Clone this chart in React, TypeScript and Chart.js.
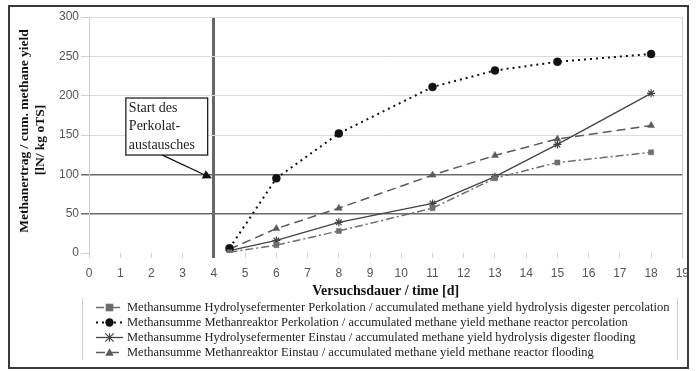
import React, { useEffect, useRef } from 'react';
import { Chart, registerables } from 'chart.js';
Chart.register(...registerables);

const days = [4.5, 6, 8, 11, 13, 15, 18];
const hydroPerkolation = [1, 10, 28, 57, 95, 115, 128];
const methanPerkolation = [6, 95, 152, 211, 232, 243, 253];
const hydroEinstau = [3, 16, 39, 63, 97, 138, 203];
const methanEinstau = [5, 31, 57, 99, 124, 145, 162];

const legendLabels = [
  'Methansumme Hydrolysefermenter Perkolation / accumulated methane yield hydrolysis digester percolation',
  'Methansumme Methanreaktor Perkolation / accumulated methane yield methane reactor percolation',
  'Methansumme Hydrolysefermenter Einstau / accumulated methane yield hydrolysis digester flooding',
  'Methansumme Methanreaktor Einstau / accumulated methane yield methane reactor flooding',
];
const xTitle = 'Versuchsdauer / time [d]';
const yTitle = ['Methanertrag / cum. methane yield', '[lN/ kg oTS]'];
const noteLines = ['Start des', 'Perkolat-', 'austausches'];
const noteDay = 4;
const noteValue = 95;

const SERIF = '"Liberation Serif", "Times New Roman", serif';
const SANS = '"Liberation Sans", Arial, sans-serif';

const styles = [
  { color: '#6e6e6e', dash: [8, 3, 2, 3], marker: 'rect', width: 1.5 },
  { color: '#111111', dash: [2, 4], marker: 'circle', width: 2 },
  { color: '#444444', dash: [], marker: 'star', width: 1.3 },
  { color: '#5a5a5a', dash: [9, 5], marker: 'triangle', width: 1.5 },
];

function drawMarker(ctx: CanvasRenderingContext2D, kind: string, x: number, y: number, r: number, color: string) {
  ctx.save();
  ctx.fillStyle = color;
  ctx.strokeStyle = color;
  ctx.setLineDash([]);
  ctx.beginPath();
  if (kind === 'rect') {
    ctx.fillRect(x - r, y - r, 2 * r, 2 * r);
  } else if (kind === 'circle') {
    ctx.arc(x, y, r, 0, Math.PI * 2);
    ctx.fill();
  } else if (kind === 'triangle') {
    ctx.moveTo(x, y - r);
    ctx.lineTo(x + r, y + r * 0.8);
    ctx.lineTo(x - r, y + r * 0.8);
    ctx.closePath();
    ctx.fill();
  } else {
    ctx.lineWidth = 1.2;
    ctx.moveTo(x - r, y - r); ctx.lineTo(x + r, y + r);
    ctx.moveTo(x - r, y + r); ctx.lineTo(x + r, y - r);
    ctx.moveTo(x, y - r); ctx.lineTo(x, y + r);
    ctx.stroke();
  }
  ctx.restore();
}

export default function App() {
  const ref = useRef<HTMLCanvasElement>(null);
  useEffect(() => {
    const canvas = ref.current!;
    const series = [hydroPerkolation, methanPerkolation, hydroEinstau, methanEinstau];
    const datasets = series.map((arr, i) => ({
      label: legendLabels[i],
      data: days.map((d, j) => ({ x: d, y: arr[j] })),
      borderColor: styles[i].color,
      backgroundColor: styles[i].color,
      borderDash: styles[i].dash,
      borderWidth: styles[i].width,
      pointStyle: styles[i].marker as any,
      pointRadius: styles[i].marker === 'rect' ? 3.6 : 4,
      pointBorderWidth: styles[i].marker === 'star' ? 1.2 : 0.5,
      pointBackgroundColor: styles[i].color,
      pointBorderColor: styles[i].color,
      tension: 0,
      fill: false,
    }));

    const overlay = {
      id: 'overlay',
      beforeDraw(chart: any) {
        const c = chart.ctx;
        c.save();
        c.fillStyle = '#ffffff';
        c.fillRect(0, 0, chart.width, chart.height);
        c.restore();
      },
      afterDraw(chart: any) {
        const c: CanvasRenderingContext2D = chart.ctx;
        const xs = chart.scales.x;
        const ys = chart.scales.y;
        const area = chart.chartArea;
        c.save();

        // annotation box and arrow
        const bx1 = xs.getPixelForValue(1.18);
        const bx2 = xs.getPixelForValue(3.8);
        const by1 = ys.getPixelForValue(197);
        const by2 = ys.getPixelForValue(124.5);
        c.fillStyle = '#ffffff';
        c.fillRect(bx1, by1, bx2 - bx1, by2 - by1);
        c.strokeStyle = '#222';
        c.lineWidth = 1.3;
        c.setLineDash([]);
        c.strokeRect(bx1, by1, bx2 - bx1, by2 - by1);
        c.fillStyle = '#222';
        c.font = `14px ${SERIF}`;
        c.textAlign = 'left';
        c.textBaseline = 'middle';
        noteLines.forEach((t, i) => c.fillText(t, bx1 + 3, by1 + 10 + i * 18.5));

        const ax1 = xs.getPixelForValue(2.35);
        const ay1 = by2;
        const ax2 = xs.getPixelForValue(noteDay) - 2;
        const ay2 = ys.getPixelForValue(noteValue);
        const ang = Math.atan2(ay2 - ay1, ax2 - ax1);
        c.strokeStyle = '#111';
        c.lineWidth = 1.3;
        c.beginPath();
        c.moveTo(ax1, ay1);
        c.lineTo(ax2 - 6 * Math.cos(ang), ay2 - 6 * Math.sin(ang));
        c.stroke();
        c.fillStyle = '#111';
        c.beginPath();
        c.moveTo(ax2, ay2);
        c.lineTo(ax2 - 9 * Math.cos(ang) + 4.5 * Math.sin(ang), ay2 - 9 * Math.sin(ang) - 4.5 * Math.cos(ang));
        c.lineTo(ax2 - 9 * Math.cos(ang) - 4.5 * Math.sin(ang), ay2 - 9 * Math.sin(ang) + 4.5 * Math.cos(ang));
        c.closePath();
        c.fill();

        // x title
        c.fillStyle = '#111';
        c.font = `bold 14px ${SERIF}`;
        c.textAlign = 'center';
        c.textBaseline = 'middle';
        c.fillText(xTitle, (area.left + area.right) / 2, 291);

        // y title
        c.font = `bold 13.5px ${SERIF}`;
        c.save();
        c.translate(25, 131);
        c.rotate(-Math.PI / 2);
        c.fillText(yTitle[0], 0, 0);
        c.restore();
        c.save();
        c.translate(41, 140);
        c.rotate(-Math.PI / 2);
        c.fillText(yTitle[1], 0, 0);
        c.restore();

        // legend
        c.strokeStyle = '#cfcfcf';
        c.lineWidth = 1;
        c.beginPath();
        c.moveTo(82.5, 298); c.lineTo(82.5, 360);
        c.moveTo(677.5, 298); c.lineTo(677.5, 360);
        c.stroke();
        c.font = `12.5px ${SERIF}`;
        c.textAlign = 'left';
        c.textBaseline = 'middle';
        legendLabels.forEach((t, i) => {
          const y = 307.5 + i * 15;
          const st = styles[i];
          c.strokeStyle = st.color;
          c.lineWidth = st.width;
          c.setLineDash(st.dash);
          c.beginPath();
          c.moveTo(96, y); c.lineTo(123, y);
          c.stroke();
          c.setLineDash([]);
          drawMarker(c, st.marker, 109.5, y, st.marker === 'rect' ? 3.8 : 4.2, st.color);
          c.fillStyle = '#222';
          c.fillText(t, 127, y + 0.5);
        });

        // outer border
        c.strokeStyle = '#3a3a3a';
        c.lineWidth = 2;
        c.strokeRect(9, 6, 679, 362);
        c.restore();
      },
    };

    const chart = new Chart(canvas, {
      type: 'line',
      data: { datasets: datasets as any },
      options: {
        responsive: false,
        animation: false,
        devicePixelRatio: 1,
        layout: { padding: { left: 0, top: 17, right: 14, bottom: 88 } },
        plugins: { legend: { display: false }, tooltip: { enabled: false } },
        scales: {
          x: {
            type: 'linear',
            min: 0,
            max: 19,
            ticks: { stepSize: 1, color: '#555', font: { family: SANS, size: 12 }, padding: 8 },
            grid: {
              color: (ctx: any) => (ctx.tick && ctx.tick.value === 4 ? '#666' : ctx.tick && ctx.tick.value === 19 ? '#cfcfcf' : 'rgba(0,0,0,0)'),
              tickColor: (ctx: any) => (ctx.tick && ctx.tick.value === 4 ? '#666' : '#d0d0d0'),
              lineWidth: (ctx: any) => (ctx.tick && ctx.tick.value === 4 ? 3 : 1),
              tickLength: 5,
            },
            border: { display: false },
            afterFit: (s: any) => { s.height = 30; },
          },
          y: {
            min: 0,
            max: 300,
            ticks: { stepSize: 50, color: '#555', font: { family: SANS, size: 12 }, padding: 2 },
            grid: {
              color: (ctx: any) => {
                const v = ctx.tick ? ctx.tick.value : -1;
                if (v === 50 || v === 100) return '#6a6a6a';
                if (v === 0) return 'rgba(0,0,0,0)';
                return '#dcdcdc';
              },
              tickColor: (ctx: any) => {
                const v = ctx.tick ? ctx.tick.value : -1;
                return v === 50 || v === 100 ? '#6a6a6a' : '#d0d0d0';
              },
              lineWidth: (ctx: any) => {
                const v = ctx.tick ? ctx.tick.value : -1;
                return v === 50 || v === 100 ? 1.5 : 1;
              },
              tickLength: 8,
            },
            border: { display: true, color: '#cfcfcf' },
            afterFit: (s: any) => { s.width = 89; },
          },
        },
      } as any,
      plugins: [overlay],
    });
    return () => chart.destroy();
  }, []);
  return (
    <div style={{ position: 'fixed', left: 0, top: 0 }}>
      <canvas ref={ref} width={697} height={371} style={{ width: 697, height: 371, display: 'block' }} />
    </div>
  );
}
